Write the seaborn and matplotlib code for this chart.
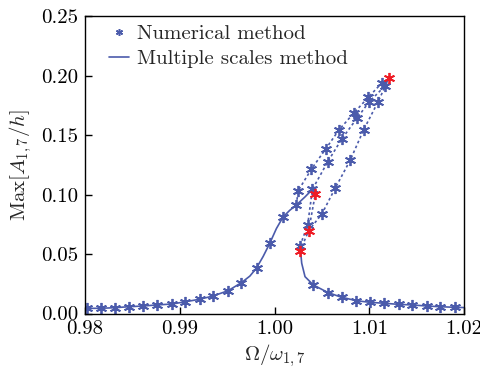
import numpy as np
import pandas as pd
import matplotlib
matplotlib.use("Agg")
import matplotlib.pyplot as plt
from matplotlib.lines import Line2D
import seaborn as sns

# ---------------- data ----------------
# numerical method markers, lower/left branch
num_left_x = [0.9802, 0.9817, 0.9832, 0.9846, 0.9861, 0.9876, 0.9892, 0.9906,
              0.9921, 0.9935, 0.9951, 0.9965, 0.9981, 0.9995, 1.0009, 1.0023, 1.0040]
num_left_y = [0.0044, 0.0044, 0.0049, 0.0057, 0.0063, 0.0072, 0.0080, 0.0099,
              0.0120, 0.0147, 0.0192, 0.0259, 0.0383, 0.0591, 0.0812, 0.0913, 0.1045]
# numerical method markers, right branch
num_right_x = [1.0027, 1.0041, 1.0056, 1.0071, 1.0086, 1.0101, 1.0116, 1.0131,
               1.0145, 1.0161, 1.0175, 1.0191]
num_right_y = [0.0571, 0.0240, 0.0175, 0.0141, 0.0108, 0.0094, 0.0086, 0.0077,
               0.0072, 0.0063, 0.0057, 0.0052]

# multiple scales method (solid line), left branch
ms_left_x = [0.9800, 0.9817, 0.9832, 0.9846, 0.9861, 0.9876, 0.9892, 0.9906,
             0.9921, 0.9935, 0.9951, 0.9965, 0.9974, 0.9981, 0.9988, 0.9995,
             1.0002, 1.0009, 1.0016, 1.0023, 1.0032, 1.0040]
ms_left_y = [0.0043, 0.0044, 0.0049, 0.0057, 0.0063, 0.0072, 0.0080, 0.0099,
             0.0120, 0.0147, 0.0192, 0.0259, 0.0315, 0.0383, 0.0480, 0.0591,
             0.0715, 0.0812, 0.0868, 0.0913, 0.0980, 0.1045]
# multiple scales method (solid line), right branch
ms_right_x = [1.00269, 1.00287, 1.00322, 1.0041, 1.0056, 1.0069, 1.0086, 1.0101,
              1.0116, 1.0131, 1.0145, 1.0161, 1.0175, 1.0191, 1.0200]
ms_right_y = [0.0577, 0.0423, 0.0310, 0.0240, 0.0178, 0.0141, 0.0108, 0.0094,
              0.0086, 0.0077, 0.0072, 0.0063, 0.0057, 0.0052, 0.0050]

# numerical dashed paths (upper multi-valued region)
path_a_x = [1.0023, 1.0025, 1.0039, 1.0054, 1.0068, 1.0084, 1.0099, 1.0113, 1.0121]
path_a_y = [0.0913, 0.1034, 0.1216, 0.1385, 0.1545, 0.1690, 0.1820, 0.1938, 0.1982]
path_b_x = [1.0027, 1.0035, 1.0040, 1.0056, 1.0071, 1.0087, 1.0100, 1.0117, 1.0121]
path_b_y = [0.0571, 0.0745, 0.1045, 0.1275, 0.1469, 0.1643, 0.1783, 0.1918, 0.1982]
path_c_x = [1.0027, 1.0036, 1.0050, 1.0064, 1.0080, 1.0094, 1.0109, 1.0121]
path_c_y = [0.0526, 0.0697, 0.0838, 0.1054, 0.1292, 0.1545, 0.1778, 0.1982]
path_d_x = [1.0036, 1.0043]
path_d_y = [0.0697, 0.1003]

# red (jump) points
red_x = [1.0121, 1.0043, 1.0036, 1.0027]
red_y = [0.1982, 0.1003, 0.0697, 0.0526]

x_ticks = [0.98, 0.99, 1.00, 1.01, 1.02]
y_ticks = [0.00, 0.05, 0.10, 0.15, 0.20, 0.25]
legend_labels = ["Numerical method", "Multiple scales method"]
x_label = r"$\Omega/\omega_{1,7}$"
y_label = r"$\mathrm{Max}[A_{1,7}/h]$"

# ---------------- style ----------------
sns.set_theme(style="ticks")
plt.rcParams["font.family"] = ["cmr10", "DejaVu Serif"]
plt.rcParams["mathtext.fontset"] = "cm"
plt.rcParams["axes.unicode_minus"] = False
plt.rcParams["axes.formatter.use_mathtext"] = True

BLUE = "#4b5bab"
RED = "#ee1c25"
MARK = (6, 2, 0)
MS = 8
MEW = 1.3
FS = 15

fig = plt.figure(figsize=(4.8, 3.8), dpi=100)
ax = fig.add_axes([0.1771, 0.175, 0.7896, 0.7816])

# solid multiple scales lines
sns.lineplot(x=ms_left_x, y=ms_left_y, sort=False, estimator=None,
             color=BLUE, lw=1.2, ax=ax)
sns.lineplot(x=ms_right_x, y=ms_right_y, sort=False, estimator=None,
             color=BLUE, lw=1.2, ax=ax)

# dashed numerical paths
for px, py in [(path_a_x, path_a_y), (path_b_x, path_b_y),
               (path_c_x, path_c_y), (path_d_x, path_d_y)]:
    sns.lineplot(x=px, y=py, sort=False, estimator=None, color=BLUE,
                 lw=1.2, linestyle=(0, (1.6, 1.6)), ax=ax)

# numerical markers
all_bx = num_left_x + num_right_x + path_a_x[1:-1] + path_b_x[1:2] + path_b_x[3:-1] + path_c_x[2:-1]
all_by = num_left_y + num_right_y + path_a_y[1:-1] + path_b_y[1:2] + path_b_y[3:-1] + path_c_y[2:-1]
sns.lineplot(x=all_bx, y=all_by, sort=False, estimator=None, color=BLUE,
             linestyle="none", marker=MARK, markersize=MS, markeredgewidth=MEW,
             markeredgecolor=BLUE, ax=ax)
sns.lineplot(x=red_x, y=red_y, sort=False, estimator=None, color=RED,
             linestyle="none", marker=MARK, markersize=MS, markeredgewidth=MEW,
             markeredgecolor=RED, ax=ax)

ax.set_xlim(0.98, 1.02)
ax.set_ylim(0.0, 0.25)
ax.set_xticks(x_ticks)
ax.set_xticklabels([f"{v:.2f}" for v in x_ticks])
ax.set_yticks(y_ticks)
ax.set_yticklabels([f"{v:.2f}" for v in y_ticks])
ax.tick_params(direction="in", length=5, width=1, labelsize=FS, colors="black",
               top=False, right=False, pad=5)
for s in ax.spines.values():
    s.set_visible(True)
    s.set_color("black")
    s.set_linewidth(1.0)
ax.set_xlabel(x_label, fontsize=FS, labelpad=3)
ax.set_ylabel(y_label, fontsize=FS, labelpad=5)

handles = [Line2D([], [], color=BLUE, linestyle="none", marker=MARK,
                  markersize=5, markeredgewidth=1.1),
           Line2D([], [], color=BLUE, lw=1.2)]
ax.legend(handles, legend_labels, loc="upper left", frameon=False,
          fontsize=FS, handlelength=1.0, handletextpad=0.35,
          borderaxespad=0.0, labelspacing=0.3, bbox_to_anchor=(0.04, 1.0))

fig.savefig("out.png", dpi=100)
